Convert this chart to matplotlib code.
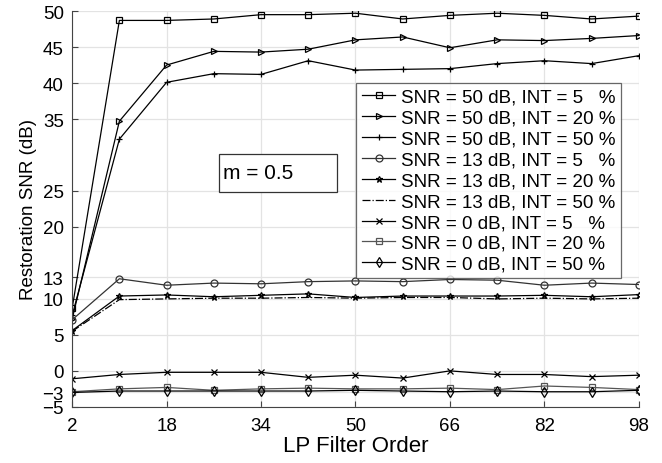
import matplotlib.pyplot as plt
from matplotlib.patches import Rectangle

plt.rcParams['font.family'] = ['Liberation Sans', 'DejaVu Sans']

# LP filter orders
orders = [2, 10, 18, 26, 34, 42, 50, 58, 66, 74, 82, 90, 98]

# restoration SNR (dB), one list per curve
snr50_int5 = [8.7, 48.7, 48.7, 48.9, 49.5, 49.5, 49.7, 48.9, 49.4, 49.7, 49.4, 48.9, 49.3]
snr50_int20 = [7.2, 34.7, 42.5, 44.4, 44.3, 44.7, 46.0, 46.4, 44.9, 46.0, 45.9, 46.2, 46.6]
snr50_int50 = [7.7, 32.2, 40.1, 41.3, 41.2, 43.1, 41.8, 41.9, 42.0, 42.7, 43.1, 42.7, 43.8]
snr13_int5 = [7.1, 12.8, 11.9, 12.2, 12.1, 12.4, 12.5, 12.4, 12.7, 12.6, 11.9, 12.2, 12.0]
snr13_int20 = [5.6, 10.4, 10.55, 10.3, 10.5, 10.7, 10.2, 10.4, 10.4, 10.4, 10.5, 10.3, 10.6]
snr13_int50 = [5.5, 9.9, 10.0, 10.1, 10.1, 10.2, 10.1, 10.2, 10.2, 10.0, 10.1, 10.0, 10.1]
snr0_int5 = [-1.1, -0.5, -0.2, -0.2, -0.2, -0.9, -0.6, -1.0, 0.0, -0.5, -0.5, -0.8, -0.6]
snr0_int20 = [-2.9, -2.5, -2.3, -2.7, -2.5, -2.4, -2.5, -2.5, -2.4, -2.6, -2.1, -2.3, -2.6]
snr0_int50 = [-3.0, -2.8, -2.8, -2.8, -2.8, -2.8, -2.7, -2.8, -2.9, -2.8, -2.9, -2.9, -2.7]

labels = ['SNR = 50 dB, INT = 5   %', 'SNR = 50 dB, INT = 20 %', 'SNR = 50 dB, INT = 50 %',
          'SNR = 13 dB, INT = 5   %', 'SNR = 13 dB, INT = 20 %', 'SNR = 13 dB, INT = 50 %',
          'SNR = 0 dB, INT = 5   %', 'SNR = 0 dB, INT = 20 %', 'SNR = 0 dB, INT = 50 %']

yticks = [-5, -3, 0, 5, 10, 13, 20, 25, 35, 40, 45, 50]
xticks = [2, 18, 34, 50, 66, 82, 98]

series = [snr50_int5, snr50_int20, snr50_int50, snr13_int5, snr13_int20,
          snr13_int50, snr0_int5, snr0_int20, snr0_int50]
styles = [('s', '-', 'black'), ('>', '-', 'black'), ('+', '-', 'black'),
          ('o', '-', '#333333'), ('*', '-', 'black'), ('', '-.', 'black'),
          ('x', '-', 'black'), ('s', '-', '#555555'), ('d', '-', 'black')]

fig = plt.figure(figsize=(6.62, 4.64), dpi=100)
ax = fig.add_axes([0.109, 0.121, 0.856, 0.853])

for vals, lab, (mk, ls, col) in zip(series, labels, styles):
    ax.plot(orders, vals, marker=mk, linestyle=ls, color=col, linewidth=0.9,
            markersize=5, markerfacecolor='none', markeredgewidth=0.9, label=lab)

ax.set_xlim(2, 98)
ax.set_ylim(-5, 50)
ax.set_xticks(xticks)
ax.set_yticks(yticks)
ax.tick_params(direction='in', labelsize=13.5, length=4, color='#444444')
ax.tick_params(axis='x', pad=7)
ax.tick_params(axis='y', pad=6)
ax.grid(True, color='#e3e3e3', linewidth=0.9)
ax.set_axisbelow(True)
for side in ['top', 'right']:
    ax.spines[side].set_visible(False)
for side in ['left', 'bottom']:
    ax.spines[side].set_color('#444444')

ax.set_xlabel('LP Filter Order', fontsize=16, labelpad=1)
ax.set_ylabel('Restoration SNR (dB)', fontsize=13.5, labelpad=4)

leg = ax.legend(loc='upper left', bbox_to_anchor=(0.501, 0.818), fontsize=13.5,
                frameon=True, fancybox=False, edgecolor='#444444',
                handlelength=1.8, handletextpad=0.3, labelspacing=0.2,
                borderpad=0.3, borderaxespad=0)
leg.get_frame().set_linewidth(0.9)

# annotation box
ax.add_patch(Rectangle((0.259, 0.543), 0.208, 0.096, transform=ax.transAxes,
                       facecolor='white', edgecolor='#333333', linewidth=0.9, zorder=3))
ax.text(0.266, 0.591, 'm = 0.5', transform=ax.transAxes, fontsize=15,
        va='center', ha='left', zorder=4)

fig.savefig('out.png', dpi=100)
